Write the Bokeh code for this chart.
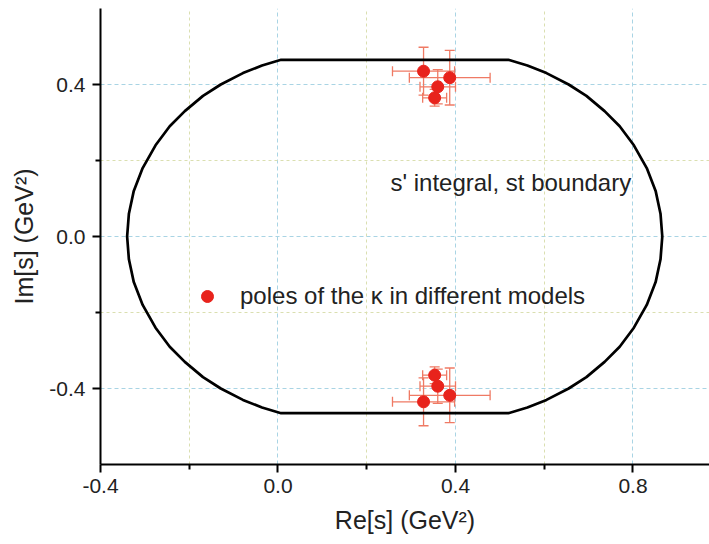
from bokeh.plotting import figure
from bokeh.models import (Range1d, FixedTicker, PrintfTickFormatter, Whisker, TeeHead,
                          ColumnDataSource, Label, Legend, LegendItem)
from bokeh.embed import file_html
from bokeh.resources import INLINE

# ---- data ----
# pole positions (upper half-plane); the lower cluster is the complex conjugate
pole_re = [0.328, 0.387, 0.360, 0.353]
pole_im = [0.435, 0.418, 0.394, 0.365]
pole_re_err = [0.070, 0.091, 0.040, 0.027]
pole_im_err = [0.063, 0.072, 0.045, 0.022]

# boundary of the s' integral (upper half), read along the left and right arcs
arc_im = [0.0, 0.06, 0.12, 0.18, 0.24, 0.29, 0.33, 0.37, 0.40, 0.43, 0.45, 0.465]
left_arc_re = [-0.340, -0.336, -0.325, -0.305, -0.276, -0.244, -0.210, -0.169, -0.129, -0.079, -0.036, 0.007]
right_arc_re = [0.866, 0.862, 0.851, 0.831, 0.802, 0.770, 0.736, 0.695, 0.655, 0.605, 0.562, 0.519]

x_ticks = [-0.4, 0.0, 0.4, 0.8]
x_minor = [-0.2, 0.2, 0.6]
y_ticks = [-0.4, 0.0, 0.4]
y_minor = [-0.2, 0.2]

FONT = "Liberation Sans"

# ---- build the closed boundary ----
top_re = left_arc_re + right_arc_re[::-1]
top_im = arc_im + arc_im[::-1]
bnd_re = top_re + top_re[::-1]
bnd_im = top_im + [-v for v in top_im[::-1]]

all_re = pole_re + pole_re
all_im = pole_im + [-v for v in pole_im]
all_re_err = pole_re_err + pole_re_err
all_im_err = pole_im_err + pole_im_err
src = ColumnDataSource(dict(
    re=all_re, im=all_im,
    re_lo=[r - e for r, e in zip(all_re, all_re_err)],
    re_hi=[r + e for r, e in zip(all_re, all_re_err)],
    im_lo=[i - e for i, e in zip(all_im, all_im_err)],
    im_hi=[i + e for i, e in zip(all_im, all_im_err)],
))

p = figure(width=709, height=544, x_range=Range1d(-0.4, 0.9724), y_range=Range1d(-0.6, 0.6),
           output_backend="svg", toolbar_location=None,
           min_border_left=100, min_border_right=0, min_border_top=8, min_border_bottom=80)
p.outline_line_color = None
p.background_fill_color = "white"
p.border_fill_color = "white"

xt = FixedTicker(ticks=x_ticks, minor_ticks=x_minor)
yt = FixedTicker(ticks=y_ticks, minor_ticks=y_minor)
p.xaxis.ticker = xt
p.yaxis.ticker = yt
p.xgrid.ticker = xt
p.ygrid.ticker = yt

p.grid.grid_line_color = "#a9d4e4"
p.grid.grid_line_dash = "4 3"
p.grid.grid_line_width = 1
p.grid.minor_grid_line_color = "#dadfb0"
p.grid.minor_grid_line_dash = "3 3"
p.grid.minor_grid_line_width = 1

for ax in (p.xaxis[0], p.yaxis[0]):
    ax.formatter = PrintfTickFormatter(format="%.1f")
    ax.axis_line_width = 2
    ax.axis_line_color = "black"
    ax.major_tick_line_width = 2
    ax.minor_tick_line_width = 2
    ax.major_tick_out = 8
    ax.major_tick_in = 0
    ax.minor_tick_out = 5
    ax.minor_tick_in = 0
    ax.major_label_text_font = FONT
    ax.major_label_text_font_size = "21px"
    ax.major_label_text_color = "#222222"
    ax.axis_label_text_font = FONT
    ax.axis_label_text_font_size = "25px"
    ax.axis_label_text_font_style = "normal"
    ax.axis_label_text_color = "#222222"

p.xaxis.axis_label = "Re[s] (GeV²)"
p.yaxis.axis_label = "Im[s] (GeV²)"
p.xaxis.major_label_standoff = 6
p.yaxis.major_label_standoff = 7
p.xaxis.axis_label_standoff = 10
p.yaxis.axis_label_standoff = 8

# boundary
p.line(bnd_re, bnd_im, line_color="black", line_width=2.7)

# error bars
ebc = "#ef7a64"
wx = Whisker(source=src, base="im", lower="re_lo", upper="re_hi", dimension="width",
             line_color=ebc, line_width=1.3,
             upper_head=TeeHead(size=10, line_color=ebc, line_width=1.3),
             lower_head=TeeHead(size=10, line_color=ebc, line_width=1.3), level="underlay")
wy = Whisker(source=src, base="re", lower="im_lo", upper="im_hi", dimension="height",
             line_color=ebc, line_width=1.3,
             upper_head=TeeHead(size=10, line_color=ebc, line_width=1.3),
             lower_head=TeeHead(size=10, line_color=ebc, line_width=1.3), level="underlay")
p.add_layout(wx)
p.add_layout(wy)

pts = p.scatter("re", "im", source=src, size=12, fill_color="#e8231c", line_color="#e8231c")

p.add_layout(Label(x=0.2535, y=0.142, text="s' integral, st boundary", text_font=FONT,
                   text_font_size="24px", text_baseline="middle", text_color="#222222"))

leg = Legend(items=[LegendItem(label="poles of the κ in different models", renderers=[pts])],
             location=(92, 153), padding=0, margin=0, spacing=0,
             glyph_width=30, glyph_height=30, label_height=30, label_standoff=18,
             label_text_font=FONT, label_text_font_size="24px", label_text_color="#222222",
             border_line_color=None, background_fill_alpha=0)
p.add_layout(leg)

open("out.html", "w").write(file_html(p, INLINE))
